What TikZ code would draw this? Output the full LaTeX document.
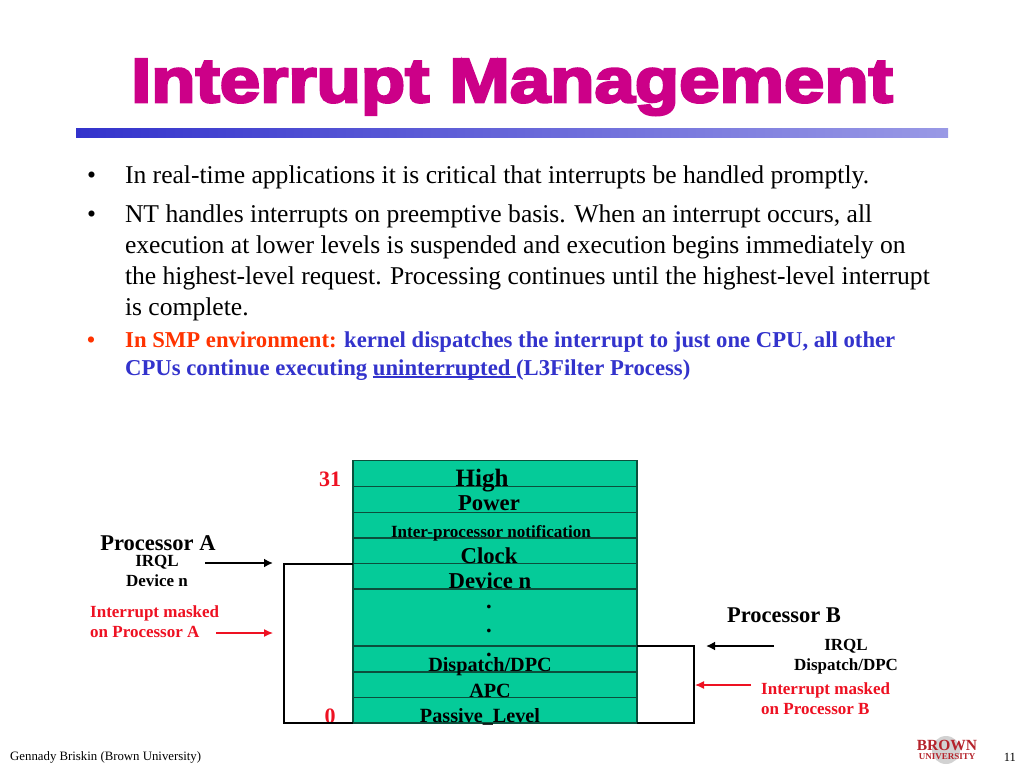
\documentclass[tikz,border=0pt]{standalone}
\usepackage{fontspec}
\setmainfont{Liberation Serif}
\newfontfamily\titlefont[FakeBold=4.4,FakeStretch=1.17]{Liberation Sans Bold}
\definecolor{rowgreen}{HTML}{05CB99}
\definecolor{rowline}{HTML}{0B4F3C}
\definecolor{titlepink}{HTML}{CC0088}
\definecolor{bodyblue}{HTML}{3333CC}
\definecolor{alertred}{HTML}{FF3300}
\definecolor{sigred}{HTML}{EE1122}
\definecolor{logored}{HTML}{B5232B}
\newcommand{\fs}[1]{\fontsize{#1}{#1}\selectfont}
\newcommand{\thickul}[1]{\setbox0\hbox{#1}\rlap{\rule[-2.8pt]{\wd0}{1.4pt}}\box0}
\tikzset{
 x=1pt,y=-1pt,
 line/.style={anchor=base west,inner sep=0pt,outer sep=0pt,text=black,font=\fs{25.6}},
 blueline/.style={anchor=base west,inner sep=0pt,font=\fs{22.7}\bfseries,text=bodyblue},
 rowbox/.style={draw=rowline,line width=1.2pt,fill=rowgreen,anchor=north west,minimum width=284pt,inner sep=0pt,outer sep=0pt},
 rowlabel/.style={anchor=base,inner sep=0pt,font=\fs{22.7}\bfseries,text=black},
 sidelabel/.style={anchor=base,inner sep=0pt,font=\fs{17}\bfseries,text=black},
 redlabel/.style={anchor=base west,inner sep=0pt,font=\fs{17}\bfseries,text=sigred},
 proclabel/.style={anchor=base,inner sep=0pt,font=\fs{22.5}\bfseries,text=black},
 levelnum/.style={anchor=base,inner sep=0pt,font=\fs{22}\bfseries,text=sigred},
 bracket/.style={line width=2pt,black,line join=miter},
 blackarrow/.style={line width=2pt,black,-{Latex[length=9pt,width=9pt]}},
 redarrow/.style={line width=1.2pt,sigred,-{Latex[length=9pt,width=8pt]}},
}
\usetikzlibrary{arrows.meta}
\begin{document}
\begin{tikzpicture}
\useasboundingbox (0,0) rectangle (1024,768);
\fill[white] (0,0) rectangle (1024,768);
% title
\node[anchor=base,inner sep=0pt,text=titlepink,font=\titlefont\fs{62}] (title) at (512,102) {Interrupt Management};
\shade[left color=bodyblue,right color=bodyblue!50!white] (76,128) rectangle (948,137);
% body
\node[line] (b1) at (87,183) {•};
\node[line] (t1) at (125,183) {In real-time applications it is critical that interrupts be handled promptly.};
\node[line] (b2) at (87,222) {•};
\node[line] (t2a) at (125,222) {NT handles interrupts on preemptive basis. When an interrupt occurs, all};
\node[line] (t2b) at (125,253) {execution at lower levels is suspended and execution begins immediately on};
\node[line] (t2c) at (125,284) {the highest-level request. Processing continues until the highest-level interrupt};
\node[line] (t2d) at (125,315) {is complete.};
\node[blueline,text=alertred] (b3) at (87,347) {•};
\node[blueline] (t3a) at (125,347) {\textcolor{alertred}{In SMP environment:} kernel dispatches the interrupt to just one CPU, all other};
\node[blueline] (t3b) at (125,375) {CPUs continue executing \thickul{uninterrupted\ }(L3Filter Process)};
% stack
\node[rowbox,minimum height=26pt] (r1) at (353,460.5) {};
\node[rowbox,minimum height=26pt] (r2) at (353,486.5) {};
\node[rowbox,minimum height=25.5pt] (r3) at (353,512.5) {};
\node[rowbox,minimum height=25.5pt] (r4) at (353,538) {};
\node[rowbox,minimum height=25.5pt] (r5) at (353,563.5) {};
\node[rowbox,minimum height=57pt] (r6) at (353,589) {};
\node[rowbox,minimum height=26pt] (r7) at (353,646) {};
\node[rowbox,minimum height=25.5pt] (r8) at (353,672) {};
\node[rowbox,minimum height=25.5pt] (r9) at (353,697.5) {};
% labels
\node[rowlabel,font=\fs{25}\bfseries] (lhigh) at (482,486) {High};
\node[rowlabel] (lpower) at (489,510) {Power};
\node[rowlabel,font=\fs{17.1}\bfseries] (lipn) at (491,537) {Inter-processor notification};
\node[rowlabel] (lclock) at (489,563) {Clock};
\node[rowlabel] (ldev) at (490,588) {Device n};
\node[rowlabel] (ld1) at (489,608) {.};
\node[rowlabel] (ld2) at (489,632) {.};
\node[rowlabel] (ld3) at (489,656) {.};
\node[rowlabel,font=\fs{20.2}\bfseries] (ldpc) at (490,671) {Dispatch/DPC};
\node[rowlabel,font=\fs{20.2}\bfseries] (lapc) at (490,697) {APC};
\node[rowlabel,font=\fs{20.2}\bfseries] (lpass) at (480,722) {Passive\_Level};
\node[levelnum] (n31) at (330,486) {31};
\node[levelnum] (n0) at (330,723) {0};
% left side
\node[proclabel] (pa) at (158,550) {Processor A};
\node[sidelabel] (ia) at (157,566) {IRQL};
\node[sidelabel] (da) at (157,586) {Device n};
\node[redlabel] (ra1) at (90,617) {Interrupt masked};
\node[redlabel] (ra2) at (90,637) {on Processor A};
\coordinate (bl) at (284,563.5);
\coordinate (bl2) at (284,723);
\draw[bracket] (r5.north west) -- (bl) -- (bl2) -- (r9.south west);
\coordinate (aas) at (205,563);
\coordinate (aae) at (273,563);
\draw[blackarrow] (aas) -- (aae);
\coordinate (ars) at (216,633);
\coordinate (are) at (273,633);
\draw[redarrow] (ars) -- (are);
% right side
\node[proclabel] (pb) at (784,622) {Processor B};
\node[sidelabel] (ib) at (846,650) {IRQL};
\node[sidelabel] (db) at (846,670) {Dispatch/DPC};
\node[redlabel] (rb1) at (761,694) {Interrupt masked};
\node[redlabel] (rb2) at (761,714) {on Processor B};
\coordinate (br) at (694,646);
\coordinate (br2) at (694,723);
\draw[bracket] (r7.north east) -- (br) -- (br2) -- (r9.south east);
\coordinate (bas) at (774,646);
\coordinate (bae) at (706,646);
\draw[blackarrow] (bas) -- (bae);
\coordinate (brs) at (751,685);
\coordinate (bre) at (695,685);
\draw[redarrow] (brs) -- (bre);
% footer
\node[anchor=base west,inner sep=0pt,font=\fs{12.8}] (foot) at (10,760) {Gennady Briskin (Brown University)};
\node[anchor=base east,inner sep=0pt,font=\fs{12.5}] (page) at (1016,761) {11};
\fill[gray!35] (946,750) circle (14pt);
\node[anchor=base,inner sep=0pt,font=\fs{15.5}\bfseries,text=logored] (logo1) at (947,750) {BROWN};
\node[anchor=base,inner sep=0pt,font=\fs{9}\bfseries,text=logored] (logo2) at (947,759) {UNIVERSITY};
\end{tikzpicture}
\end{document}
